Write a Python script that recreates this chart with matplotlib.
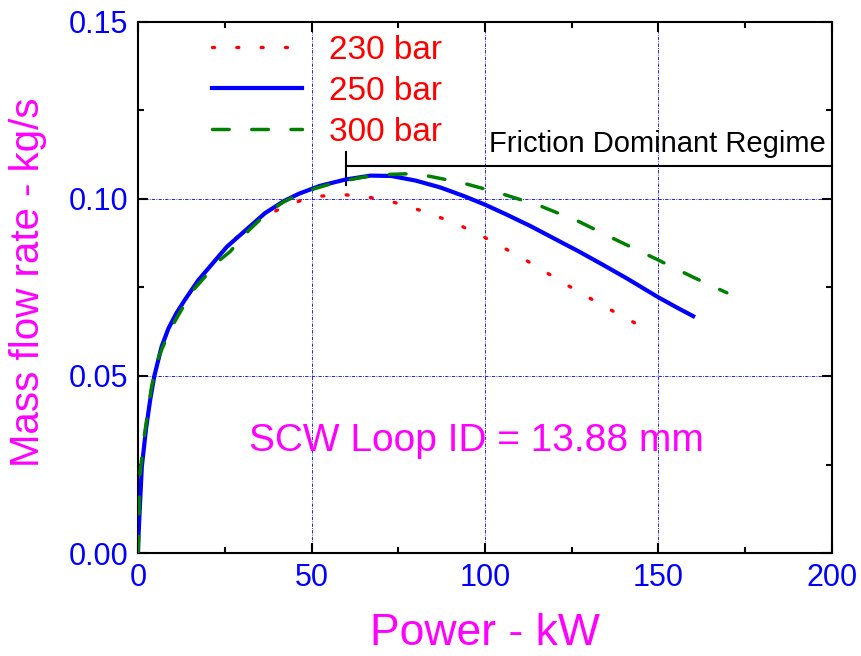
import matplotlib
matplotlib.use("Agg")
import matplotlib.pyplot as plt
from matplotlib.ticker import MultipleLocator, FormatStrFormatter

plt.rcParams['font.family'] = ['Liberation Sans', 'DejaVu Sans']

# mass flow rate vs. heater power for three loop pressures
p230_kw = [0, 0.2, 0.4, 1.1, 2.3, 3.5, 4.7, 6.8, 8.8, 11.1, 17.4, 26.5, 33.2,
           40.0, 46.7, 52.6, 59.6, 66.5, 73.3, 79.8, 86.5, 93.3, 100.0, 106.7,
           113.4, 119.9, 126.6, 133.4, 140.1, 148.0]
p230_flow = [0, 0.006, 0.0103, 0.0244, 0.0350, 0.0432, 0.050, 0.0583, 0.0635,
             0.0678, 0.0771, 0.0876, 0.0927, 0.0968, 0.0995, 0.1008, 0.1012,
             0.1005, 0.0992, 0.0973, 0.0950, 0.0923, 0.0891, 0.0855, 0.0818,
             0.0779, 0.0740, 0.0702, 0.0666, 0.0625]

p250_kw = [0, 0.2, 0.4, 1.1, 2.3, 3.5, 4.7, 6.8, 8.8, 11.1, 13.5, 17.4, 25.6,
           36.6, 42.0, 46.4, 52.4, 59.8, 67.0, 73.0, 80.0, 87.0, 94.0, 100.0,
           106.0, 113.0, 120.0, 127.0, 134.0, 141.0, 150.0, 155.0, 160.0]
p250_flow = [0, 0.006, 0.0103, 0.0244, 0.0350, 0.0432, 0.050, 0.0583, 0.0635,
             0.0678, 0.0715, 0.0771, 0.0865, 0.0960, 0.0994, 0.1015, 0.1037,
             0.1055, 0.1066, 0.1065, 0.1052, 0.1033, 0.1008, 0.0984, 0.0957,
             0.0924, 0.0888, 0.0852, 0.0814, 0.0775, 0.0722, 0.0695, 0.0669]

p300_kw = [0, 0.2, 0.6, 1.8, 3.9, 6.0, 9.2, 15.5, 23.6, 26.5, 32.0, 37.1, 42.0,
           46.4, 50.5, 55.0, 59.8, 65.0, 71.1, 77.0, 82.0, 93.3, 104.1, 115.5,
           126.9, 137.9, 149.0, 160.0, 169.7]
p300_flow = [0, 0.006, 0.0226, 0.033, 0.047, 0.0555, 0.063, 0.0738, 0.0828,
             0.0851, 0.0912, 0.0960, 0.0992, 0.1013, 0.1028, 0.1041, 0.1052,
             0.1062, 0.1069, 0.1071, 0.1068, 0.1046, 0.1017, 0.0982, 0.0937,
             0.0884, 0.0832, 0.0779, 0.0735]

fig = plt.figure(figsize=(8.61, 6.56), dpi=100)
ax = fig.add_axes([0.1603, 0.157, 0.806, 0.8095])

ax.plot(p230_kw, p230_flow, color='red', lw=2.4, linestyle=(0, (0.6, 6.7)),
        dash_capstyle='round', label='230 bar', zorder=3)
ax.plot(p250_kw, p250_flow, color='blue', lw=3.0, label='250 bar', zorder=4)
ax.plot(p300_kw, p300_flow, color='green', lw=2.5, linestyle=(0, (4.8, 6.5)),
        dash_capstyle='round', label='300 bar', zorder=5)

ax.set_xlim(0, 200)
ax.set_ylim(0, 0.15)
ax.xaxis.set_major_locator(MultipleLocator(50))
ax.xaxis.set_minor_locator(MultipleLocator(25))
ax.yaxis.set_major_locator(MultipleLocator(0.05))
ax.yaxis.set_minor_locator(MultipleLocator(0.025))
ax.yaxis.set_major_formatter(FormatStrFormatter('%.2f'))

ax.grid(which='major', color='blue', linestyle=(0, (4, 1.5, 1, 1.5)), linewidth=0.6)
ax.set_axisbelow(True)

for s in ax.spines.values():
    s.set_linewidth(1.5)
ax.tick_params(which='both', direction='in', top=True, right=True, width=1.5,
               labelcolor='blue', labelsize=22)
ax.tick_params(which='major', length=7, pad=7)
ax.tick_params(which='minor', length=4)

ax.set_xlabel('Power - kW', color='magenta', fontsize=32)
ax.set_ylabel('Mass flow rate - kg/s', color='magenta', fontsize=29)
ax.xaxis.set_label_coords(0.5, -0.152)
ax.xaxis.label.set_va('center')
ax.yaxis.set_label_coords(-0.159, 0.51)
ax.yaxis.label.set_va('center')

# friction regime marker
ax.plot([60, 60], [0.1040, 0.1132], color='black', lw=1.5, clip_on=False)
ax.plot([60, 200], [0.1094, 0.1094], color='black', lw=1.5, clip_on=False)
ax.text(101.2, 0.1133, 'Friction Dominant Regime', fontsize=21, color='black',
        ha='left', va='baseline')

ax.text(97.5, 0.0315, 'SCW Loop ID = 13.88 mm', fontsize=28, color='magenta',
        ha='center', va='center')

ax.legend(loc='upper left', bbox_to_anchor=(0.1066, 0.9755), frameon=False,
          fontsize=24, labelcolor='red', handlelength=2.7, handletextpad=0.8,
          labelspacing=0.3, borderpad=0, borderaxespad=0)

fig.savefig('out.png', dpi=100)
